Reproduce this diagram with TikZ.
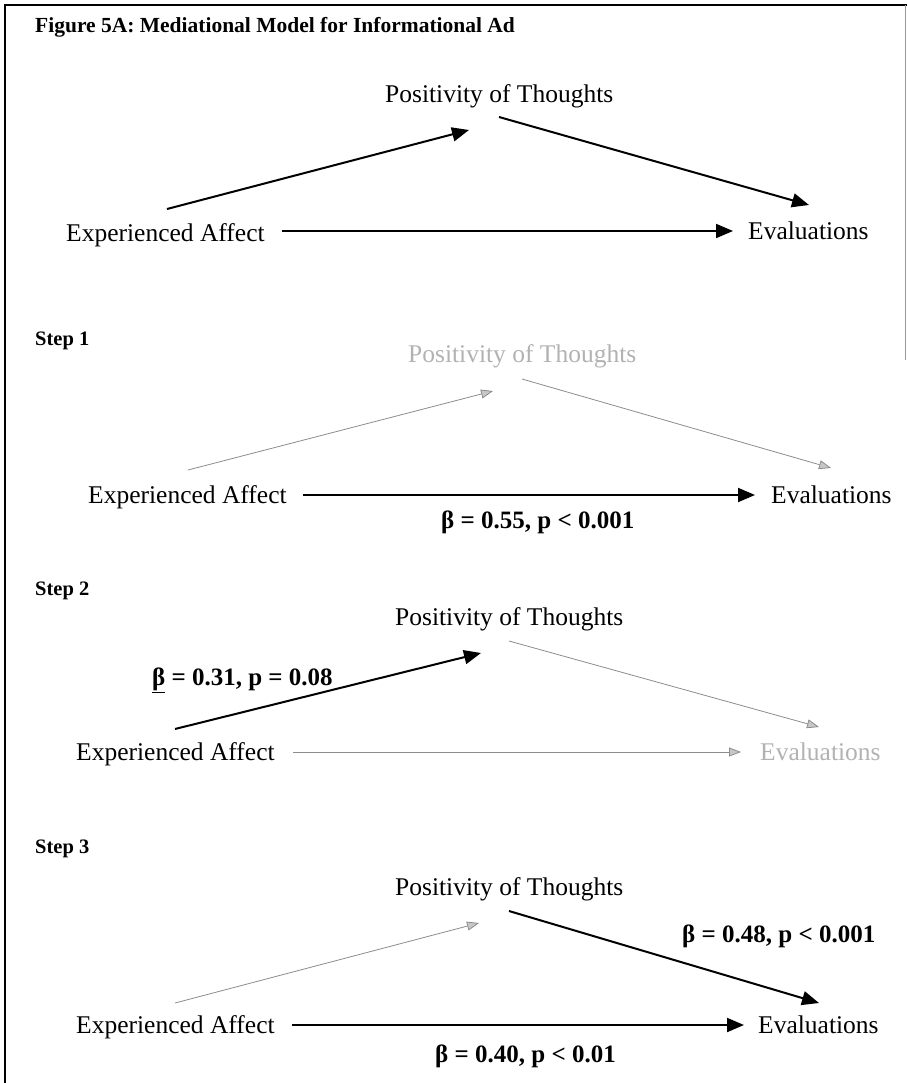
\documentclass[tikz,border=0pt]{standalone}
\usepackage{fontspec}
\setmainfont{Liberation Serif}
\usetikzlibrary{arrows.meta}
\begin{document}
\begin{tikzpicture}[x=1pt,y=-1pt,
 lbl/.style={font=\fontsize{25.5}{30}\selectfont, inner sep=0pt, anchor=base west},
 glbl/.style={lbl, text=black!30},
 coef/.style={font=\bfseries\fontsize{25}{30}\selectfont, inner sep=0pt, anchor=base west},
 steplbl/.style={font=\bfseries\fontsize{20.5}{24}\selectfont, inner sep=0pt, anchor=base west},
 blk/.style={line width=2pt, -{Triangle[length=17pt,width=14pt]}},
 gry/.style={draw=black!45, line width=0.8pt, -{Triangle[length=12pt,width=9pt,fill=black!22]}},
]
\useasboundingbox (0,0) rectangle (907,1083);
\draw[line width=2pt] (5,1083) -- (5,5) -- (907,5);
\draw[black!40, line width=1pt] (905,5) -- (905,360);
\node[anchor=base west, font=\bfseries\fontsize{21.5}{25}\selectfont, inner sep=0pt] (title) at (35,33) {Figure 5A: Mediational Model for Informational Ad};
% model
\node[lbl] (pt0) at (385,103) {Positivity of Thoughts};
\node[lbl] (ea0) at (66,242) {Experienced Affect};
\node[lbl] (ev0) at (748,240) {Evaluations};
\coordinate (a0s) at (167,209); \coordinate (a0e) at (469,130);
\coordinate (b0s) at (499,117); \coordinate (b0e) at (809,205);
\coordinate (c0s) at (282,231); \coordinate (c0e) at (733,231);
\draw[blk] (a0s) -- (a0e);
\draw[blk] (b0s) -- (b0e);
\draw[blk] (c0s) -- (c0e);
% step 1
\node[steplbl] (s1) at (35,345) {Step 1};
\node[glbl] (pt1) at (408,362) {Positivity of Thoughts};
\node[lbl] (ea1) at (88,503) {Experienced Affect};
\node[lbl] (ev1) at (771,503) {Evaluations};
\coordinate (a1s) at (188,470); \coordinate (a1e) at (493,391);
\coordinate (b1s) at (522,379); \coordinate (b1e) at (831,468);
\coordinate (c1s) at (303,495); \coordinate (c1e) at (755,495);
\draw[gry] (a1s) -- (a1e);
\draw[gry] (b1s) -- (b1e);
\draw[blk] (c1s) -- (c1e);
\node[coef] (k1) at (441,528) {β = 0.55, p < 0.001};
% step 2
\node[steplbl] (s2) at (35,595) {Step 2};
\node[lbl] (pt2) at (395,625) {Positivity of Thoughts};
\node[lbl] (ea2) at (76,760) {Experienced Affect};
\node[glbl] (ev2) at (760,760) {Evaluations};
\coordinate (a2s) at (175,729); \coordinate (a2e) at (481,653);
\coordinate (b2s) at (509,641); \coordinate (b2e) at (819,727);
\coordinate (c2s) at (293,752); \coordinate (c2e) at (741,752);
\draw[blk] (a2s) -- (a2e);
\draw[gry] (b2s) -- (b2e);
\draw[gry] (c2s) -- (c2e);
\node[coef] (k2) at (152,685) {\underline{β} = 0.31, p = 0.08};
% step 3
\node[steplbl] (s3) at (35,853) {Step 3};
\node[lbl] (pt3) at (395,895) {Positivity of Thoughts};
\node[lbl] (ea3) at (76,1033) {Experienced Affect};
\node[lbl] (ev3) at (758,1033) {Evaluations};
\coordinate (a3s) at (175,1003); \coordinate (a3e) at (479,923);
\coordinate (b3s) at (509,911); \coordinate (b3e) at (819,1003);
\coordinate (c3s) at (292,1025); \coordinate (c3e) at (744,1025);
\draw[gry] (a3s) -- (a3e);
\draw[blk] (b3s) -- (b3e);
\draw[blk] (c3s) -- (c3e);
\node[coef] (k3) at (682,942) {β = 0.48, p < 0.001};
\node[coef] (k4) at (435,1062) {β = 0.40, p < 0.01};
\end{tikzpicture}
\end{document}
